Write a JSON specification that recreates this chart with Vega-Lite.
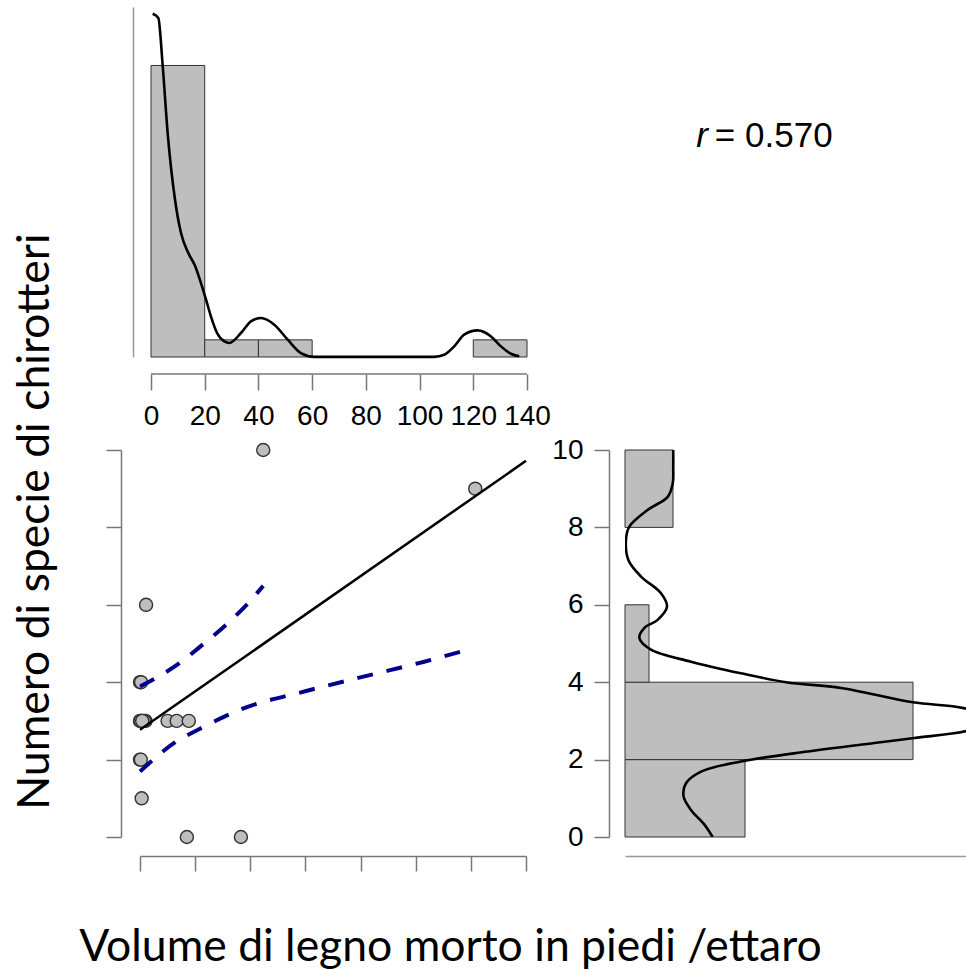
{
 "$schema": "https://vega.github.io/schema/vega-lite/v6.json",
 "padding": {"left": 11, "top": 7, "right": 0, "bottom": 0},
 "autosize": {"type": "pad"},
 "background": "white",
 "config": {
  "view": {"stroke": null},
  "axis": {"grid": false, "domainColor": "#777", "tickColor": "#777", "domainWidth": 1.5, "tickWidth": 1.5, "labelColor": "black", "labelFont": "Liberation Sans", "labelFontSize": 28, "labelFlush": false, "labelOverlap": false}
 },
 "datasets": {
  "points": [
   {"xv": 44.7, "yv": 10}, {"xv": 121.6, "yv": 9}, {"xv": 2.2, "yv": 6}, {"xv": 0, "yv": 4}, {"xv": 0.4, "yv": 4},
   {"xv": 0, "yv": 3}, {"xv": 2, "yv": 3}, {"xv": 10, "yv": 3}, {"xv": 13.3, "yv": 3}, {"xv": 17.7, "yv": 3},
   {"xv": 0.5, "yv": 3}, {"xv": 1, "yv": 3}, {"xv": 1.5, "yv": 3}, {"xv": 0.2, "yv": 3}, {"xv": 0.8, "yv": 3},
   {"xv": 0, "yv": 2}, {"xv": 0.3, "yv": 2}, {"xv": 0.6, "yv": 1}, {"xv": 17, "yv": 0}, {"xv": 36.6, "yv": 0}
  ],
  "xhist": [
   {"xv": 0, "xv2": 20, "yv": 17}, {"xv": 20, "xv2": 40, "yv": 1}, {"xv": 40, "xv2": 60, "yv": 1}, {"xv": 120, "xv2": 140, "yv": 1}
  ],
  "xdens": [
   {"xv": 0.62, "yv": 20.02}, {"xv": 2.73, "yv": 19.77}, {"xv": 4.34, "yv": 17.0}, {"xv": 6.2, "yv": 13.06},
   {"xv": 8.94, "yv": 9.17}, {"xv": 11.17, "yv": 7.23}, {"xv": 13.9, "yv": 6.06}, {"xv": 16.5, "yv": 5.28},
   {"xv": 18.6, "yv": 4.31}, {"xv": 20.5, "yv": 3.34}, {"xv": 22.3, "yv": 2.37}, {"xv": 24.6, "yv": 1.4},
   {"xv": 27.3, "yv": 0.91}, {"xv": 29.2, "yv": 0.82}, {"xv": 33.5, "yv": 1.4}, {"xv": 37.2, "yv": 2.08},
   {"xv": 40.95, "yv": 2.27}, {"xv": 45.9, "yv": 1.88}, {"xv": 50.9, "yv": 1.01}, {"xv": 55.8, "yv": 0.23},
   {"xv": 60.8, "yv": 0.01}, {"xv": 105.5, "yv": 0.01}, {"xv": 109.2, "yv": 0.13}, {"xv": 112.9, "yv": 0.62},
   {"xv": 116.6, "yv": 1.3}, {"xv": 121.6, "yv": 1.55}, {"xv": 126.6, "yv": 1.2}, {"xv": 130.3, "yv": 0.62},
   {"xv": 134.0, "yv": 0.19}, {"xv": 137.1, "yv": 0.04}
  ],
  "yhist": [
   {"yv": 0, "yv2": 2, "xv": 5}, {"yv": 2, "yv2": 4, "xv": 12}, {"yv": 4, "yv2": 6, "xv": 1}, {"yv": 8, "yv2": 10, "xv": 2}
  ],
  "ydens": [
   {"xv": 3.65, "yv": 0.0}, {"xv": 3.31, "yv": 0.32}, {"xv": 2.75, "yv": 0.7}, {"xv": 2.44, "yv": 1.05},
   {"xv": 2.54, "yv": 1.39}, {"xv": 3.17, "yv": 1.69}, {"xv": 4.83, "yv": 1.95}, {"xv": 7.61, "yv": 2.21},
   {"xv": 10.39, "yv": 2.43}, {"xv": 12.06, "yv": 2.56}, {"xv": 14.25, "yv": 2.74}, {"xv": 15.5, "yv": 3.0},
   {"xv": 14.11, "yv": 3.33}, {"xv": 11.99, "yv": 3.48}, {"xv": 9.0, "yv": 3.85}, {"xv": 6.71, "yv": 4.0},
   {"xv": 4.83, "yv": 4.23}, {"xv": 2.75, "yv": 4.53}, {"xv": 1.08, "yv": 4.84}, {"xv": 0.6, "yv": 5.14},
   {"xv": 0.8, "yv": 5.4}, {"xv": 1.36, "yv": 5.61}, {"xv": 1.75, "yv": 5.95}, {"xv": 1.5, "yv": 6.3},
   {"xv": 0.67, "yv": 6.73}, {"xv": 0.14, "yv": 7.16}, {"xv": 0.04, "yv": 7.68}, {"xv": 0.18, "yv": 8.02},
   {"xv": 0.94, "yv": 8.45}, {"xv": 1.78, "yv": 8.79}, {"xv": 1.99, "yv": 9.14}, {"xv": 2.01, "yv": 9.57},
   {"xv": 2.01, "yv": 10.0}
  ],
  "fit": [{"xv": 0, "yv": 2.77}, {"xv": 140, "yv": 9.72}],
  "ci": [
   {"band": "upper", "xv": 0, "yv": 3.89}, {"band": "upper", "xv": 14.3, "yv": 4.49}, {"band": "upper", "xv": 22.7, "yv": 4.97},
   {"band": "upper", "xv": 31.2, "yv": 5.48}, {"band": "upper", "xv": 39.7, "yv": 6.08}, {"band": "upper", "xv": 44.7, "yv": 6.49},
   {"band": "lower", "xv": 0, "yv": 1.69}, {"band": "lower", "xv": 12.4, "yv": 2.43}, {"band": "lower", "xv": 22.1, "yv": 2.81},
   {"band": "lower", "xv": 37.8, "yv": 3.33}, {"band": "lower", "xv": 59.6, "yv": 3.76}, {"band": "lower", "xv": 81.4, "yv": 4.15},
   {"band": "lower", "xv": 103.1, "yv": 4.53}, {"band": "lower", "xv": 118.9, "yv": 4.84}
  ],
  "label": [{"sym": "r", "rest": "= 0.570"}]
 },
 "bounds": "flush",
 "columns": 2,
 "spacing": {"row": 93, "column": 98},
 "concat": [
  {
   "width": 387, "height": 350,
   "layer": [
    {
     "data": {"name": "xhist"},
     "mark": {"type": "rect", "fill": "#BEBEBE", "stroke": "#333", "strokeWidth": 1},
     "encoding": {
      "x": {"field": "xv", "type": "quantitative", "scale": {"domain": [-4.1, 140], "nice": false, "zero": false},
            "axis": {"orient": "bottom", "offset": 17, "domain": false, "values": [0, 20, 40, 60, 80, 100, 120, 140], "tickSize": 16, "labelPadding": 12, "title": null}},
      "x2": {"field": "xv2"},
      "y": {"field": "yv", "type": "quantitative", "scale": {"domain": [0, 20.41], "nice": false},
            "axis": {"orient": "left", "offset": 7, "ticks": false, "labels": false, "title": null, "domainColor": "#999"}},
      "y2": {"datum": 0}
     }
    },
    {
     "data": {"values": [{}]},
     "mark": {"type": "rule", "color": "#777", "strokeWidth": 1.5},
     "encoding": {
      "x": {"datum": 0, "type": "quantitative"},
      "x2": {"datum": 140},
      "y": {"datum": -0.99, "type": "quantitative"}
     }
    },
    {
     "data": {"name": "xdens"},
     "mark": {"type": "line", "color": "black", "strokeWidth": 2.6, "interpolate": "monotone"},
     "encoding": {
      "x": {"field": "xv", "type": "quantitative"},
      "y": {"field": "yv", "type": "quantitative"}
     }
    },
    {
     "data": {"name": "label"},
     "mark": {"type": "text", "font": "Liberation Sans", "fontSize": 35, "fontStyle": "italic", "align": "right", "baseline": "alphabetic", "dx": -5, "color": "black"},
     "encoding": {
      "text": {"field": "sym"},
      "x": {"datum": 209.2, "type": "quantitative"},
      "y": {"datum": 12.24, "type": "quantitative"}
     }
    },
    {
     "data": {"name": "label"},
     "mark": {"type": "text", "font": "Liberation Sans", "fontSize": 35, "align": "left", "baseline": "alphabetic", "dx": 2, "color": "black"},
     "encoding": {
      "text": {"field": "rest"},
      "x": {"datum": 209.2, "type": "quantitative"},
      "y": {"datum": 12.24, "type": "quantitative"}
     }
    }
   ]
  },
  {"width": 342, "height": 350, "data": {"values": [{}]}, "mark": {"type": "point", "opacity": 0}, "encoding": {}},
  {
   "width": 386, "height": 387,
   "layer": [
    {
     "data": {"name": "points"},
     "mark": {"type": "point", "filled": true, "fill": "#BEBEBE", "stroke": "#333", "strokeWidth": 1.4, "size": 170, "opacity": 1},
     "encoding": {
      "x": {"field": "xv", "type": "quantitative", "scale": {"domain": [0, 140], "nice": false, "zero": false},
            "axis": {"orient": "bottom", "offset": 19, "values": [0, 20, 40, 60, 80, 100, 120, 140], "tickSize": 15, "labels": false,
                     "title": "Volume di legno morto in piedi /ettaro", "titleFont": "Lato", "titleFontSize": 44.5, "titleFontWeight": "normal", "titleColor": "black",
                     "titleX": 310, "titleY": 104, "titleAlign": "center", "titleBaseline": "alphabetic", "titleAngle": 0}},
      "y": {"field": "yv", "type": "quantitative", "scale": {"domain": [0, 10], "nice": false, "zero": false},
            "axis": {"orient": "left", "offset": 19, "values": [0, 2, 4, 6, 8, 10], "tickSize": 15, "labels": false,
                     "title": "Numero di specie di chirotteri", "titleFont": "Lato", "titleFontSize": 44.5, "titleFontWeight": "normal", "titleColor": "black",
                     "titleX": -73, "titleY": 71, "titleAlign": "center", "titleBaseline": "alphabetic", "titleAngle": 270}}
     }
    },
    {
     "data": {"name": "fit"},
     "mark": {"type": "line", "color": "black", "strokeWidth": 2.5},
     "encoding": {
      "x": {"field": "xv", "type": "quantitative"},
      "y": {"field": "yv", "type": "quantitative"}
     }
    },
    {
     "data": {"name": "ci"},
     "mark": {"type": "line", "color": "#00008B", "strokeWidth": 4, "strokeDash": [16, 14], "interpolate": "monotone"},
     "encoding": {
      "x": {"field": "xv", "type": "quantitative"},
      "y": {"field": "yv", "type": "quantitative"},
      "detail": {"field": "band", "type": "nominal"}
     }
    }
   ]
  },
  {
   "width": 342, "height": 387,
   "layer": [
    {
     "data": {"name": "yhist"},
     "mark": {"type": "rect", "fill": "#BEBEBE", "stroke": "#333", "strokeWidth": 1},
     "encoding": {
      "y": {"field": "yv", "type": "quantitative", "scale": {"domain": [0, 10], "nice": false, "zero": false},
            "axis": {"orient": "left", "offset": 16, "values": [0, 2, 4, 6, 8, 10], "tickSize": 15, "labelPadding": 11, "title": null}},
      "y2": {"field": "yv2"},
      "x": {"field": "xv", "type": "quantitative", "scale": {"domain": [0, 14.25], "nice": false},
            "axis": {"orient": "bottom", "offset": 19, "ticks": false, "labels": false, "title": null, "domainColor": "#999"}},
      "x2": {"datum": 0}
     }
    },
    {
     "data": {"name": "ydens"},
     "mark": {"type": "line", "color": "black", "strokeWidth": 2.6, "interpolate": "catmull-rom", "clip": true},
     "encoding": {
      "x": {"field": "xv", "type": "quantitative"},
      "y": {"field": "yv", "type": "quantitative"},
      "order": {"field": "yv", "type": "quantitative"}
     }
    }
   ]
  }
 ]
}
